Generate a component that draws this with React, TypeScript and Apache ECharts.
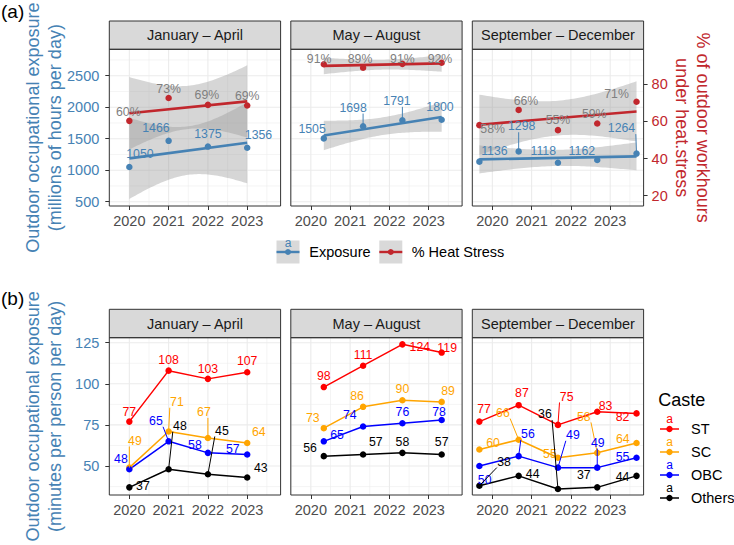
import React, { useEffect, useRef } from 'react';
import * as echarts from 'echarts';

// ---------- data ----------
const periods = ['January – April', 'May – August', 'September – December'];
const yearTicks = [2020, 2021, 2022, 2023];
const xJanApr = [2020, 2021, 2022, 2023];
const xMayAug = [2020.33, 2021.33, 2022.33, 2023.33];
const xSepDec = [2019.67, 2020.67, 2021.67, 2022.67, 2023.67];

// (a) exposure, millions of hours per day
const exposureJanApr = [1050, 1466, 1375, 1356];
const exposureMayAug = [1505, 1698, 1791, 1800];
const exposureSepDec = [1136, 1298, 1118, 1162, 1264];
// (a) % of outdoor workhours under heat stress
const heatJanApr = [60.3, 72.6, 68.9, 68.6];
const heatMayAug = [90.8, 88.9, 91.0, 91.6];
const heatSepDec = [58.0, 66.2, 55.3, 58.9, 70.6];

// (b) minutes per person per day by caste
const castes = ['ST', 'SC', 'OBC', 'Others'];
const stJanApr = [77, 108, 103, 107];
const scJanApr = [49, 71, 67, 64];
const obcJanApr = [48, 65, 58, 57];
const othersJanApr = [37, 48, 45, 43];
const stMayAug = [98, 111, 124, 119];
const scMayAug = [73, 86, 90, 89];
const obcMayAug = [65, 74, 76, 78];
const othersMayAug = [56, 57, 58, 57];
const stSepDec = [77, 87, 75, 83, 82];
const scSepDec = [60, 66, 55, 58, 64];
const obcSepDec = [50, 56, 49, 49, 55];
const othersSepDec = [38, 44, 36, 37, 44];

const exposureTicks = [500, 1000, 1500, 2000, 2500];
const heatTicks = [20, 40, 60, 80];
const minutesTicks = [50, 75, 100, 125];

// ---------- styling / layout ----------
const FONT = '"Liberation Sans", Arial, Helvetica, sans-serif';
const BLUE = '#4682B4';
const RED = '#C1272D';
const GREY_LABEL = '#7F7F7F';
const casteColors = ['#FF0000', '#FFA500', '#0000FF', '#000000'];
const X_MIN = 2019.49, X_MAX = 2023.85;
const EXPO_MIN = 431.7, EXPO_MAX = 2919;
const HEAT_MIN = 14.45, HEAT_MAX = 98.85;
const MIN_MIN = 32.36, MIN_MAX = 128.04;
const panelLefts = [109.3, 290.8, 472.3];
const PANEL_W = 171.3;
const TOP_STRIP = 21, TOP_Y = 49.3, TOP_H = 156.7;
const BOT_STRIP = 309.3, BOT_Y = 337.7, BOT_H = 157.3;
const LABEL_FS = 12.3;

// label nudges [dx, dy, segment]
const nudgeExposure = [
  [[10.6, -12.7, 0], [-12.7, -13, 0], [0, -12.6, 0], [11.3, -13, 0]],
  [[-11.7, -9.4, 0], [-10, -18.5, 1], [-5.4, -19.4, 1], [-1.7, -12.5, 0]],
  [[15, -11, 0], [3, -25, 1], [-14.7, -12, 0], [-15.4, -9.3, 0], [-15, -25.3, 1]],
];
const nudgeHeat = [
  [[-1, -9, 0], [0, -9.5, 0], [-1, -9.6, 0], [0, -9, 0]],
  [[-4.7, -4.9, 0], [-3, -8.5, 0], [0, -4.6, 0], [-1.7, -3.5, 0]],
  [[13.3, 3.6, 0], [7.3, -8.8, 0], [0, -10.4, 0], [-3, -9.2, 0], [-20, -7.8, 0]],
];
const nudgeCaste = [
  [
    [[0, -10, 0], [0, -11, 0], [0, -10, 0], [0, -11, 0]],
    [[5.6, -27, 1], [8.3, -29.6, 1], [-4, -26, 1], [11.6, -11, 0]],
    [[-8.4, -10.4, 0], [-12.7, -20.4, 1], [-13, -8, 0], [-14.4, -5.6, 0]],
    [[13.6, -1.5, 0], [11.3, -43.4, 1], [14, -43.6, 1], [13.6, -10, 0]],
  ],
  [
    [[0, -11, 0], [0, -11, 0], [17.5, 2.3, 0], [5.5, -4.5, 0]],
    [[-11, -10.6, 0], [-6, -11, 0], [0, -11, 0], [6.3, -11, 0]],
    [[13.3, -6.4, 0], [-13.3, -11.6, 0], [0, -11.7, 0], [-2.7, -8, 0]],
    [[-13.7, -8.2, 0], [12.7, -12.6, 0], [0, -11.3, 0], [0, -12.6, 0]],
  ],
  [
    [[4.6, -12.4, 0], [3.3, -12.3, 0], [8.7, -28.3, 1], [8.3, -6.1, 0], [-14, 3.2, 0]],
    [[13.6, -7, 0], [-15.7, -27, 1], [-8, -3.6, 0], [-13.4, -36.3, 1], [-13.7, -4, 0]],
    [[5.3, 14, 0], [9.3, -22, 1], [15, -32.7, 1], [0.6, -25, 1], [-14, -0.6, 0]],
    [[24.6, -24, 1], [14, -2, 0], [-13, -74.8, 1], [-13.4, -12.5, 0], [-14, 0.7, 0]],
  ],
];

// ---------- helpers ----------
const T975: Record<number, number> = { 1: 12.706, 2: 4.303, 3: 3.182, 4: 2.776 };
function fitLm(xs: number[], ys: number[]) {
  const n = xs.length;
  const xm = xs.reduce((a, b) => a + b, 0) / n;
  const ym = ys.reduce((a, b) => a + b, 0) / n;
  let sxx = 0, sxy = 0;
  for (let i = 0; i < n; i++) { sxx += (xs[i] - xm) ** 2; sxy += (xs[i] - xm) * (ys[i] - ym); }
  const b = sxy / sxx, a = ym - b * xm;
  let sse = 0;
  for (let i = 0; i < n; i++) sse += (ys[i] - (a + b * xs[i])) ** 2;
  return { a, b, n, xm, sxx, s: Math.sqrt(sse / (n - 2)) };
}
function ciBand(xs: number[], ys: number[], steps = 60) {
  const f = fitLm(xs, ys);
  const t = T975[f.n - 2];
  const x0 = Math.min(...xs), x1 = Math.max(...xs);
  const out: number[][] = [];
  for (let k = 0; k <= steps; k++) {
    const x = x0 + ((x1 - x0) * k) / steps;
    const yh = f.a + f.b * x;
    const se = f.s * Math.sqrt(1 / f.n + (x - f.xm) ** 2 / f.sxx);
    out.push([x, yh - t * se, yh + t * se]);
  }
  return out;
}
function fitLine(xs: number[], ys: number[]) {
  const f = fitLm(xs, ys);
  const x0 = Math.min(...xs), x1 = Math.max(...xs);
  return [[x0, f.a + f.b * x0], [x1, f.a + f.b * x1]];
}

function gridSeries(xi: number, yi: number, yMajor: number[], yMinor: number[], yMid: number) {
  const data: number[][] = [];
  yearTicks.forEach((v) => data.push([v, 0, 1]));
  [2019.5, 2020.5, 2021.5, 2022.5, 2023.5].forEach((v) => data.push([v, 0, 0]));
  yMajor.forEach((v) => data.push([v, 1, 1]));
  yMinor.forEach((v) => data.push([v, 1, 0]));
  return {
    type: 'custom', xAxisIndex: xi, yAxisIndex: yi, z: 0, silent: true,
    data,
    renderItem: (params: any, api: any) => {
      const v = api.value(0), kind = api.value(1), major = api.value(2);
      const cs = params.coordSys;
      let shape;
      if (kind === 0) {
        const px = api.coord([v, yMid])[0];
        shape = { x1: px, y1: cs.y, x2: px, y2: cs.y + cs.height };
      } else {
        const py = api.coord([2021.5, v])[1];
        shape = { x1: cs.x, y1: py, x2: cs.x + cs.width, y2: py };
      }
      return { type: 'line', shape, style: { stroke: '#EBEBEB', lineWidth: major ? 1.1 : 0.55 } };
    },
  };
}

function bandSeries(xi: number, yi: number, xs: number[], ys: number[]) {
  const pts = ciBand(xs, ys);
  return {
    type: 'custom', xAxisIndex: xi, yAxisIndex: yi, z: 1, silent: true, clip: true,
    data: [[pts[0][0], pts[0][1]]],
    renderItem: (_p: any, api: any) => {
      const up = pts.map((d) => api.coord([d[0], d[2]]));
      const lo = pts.map((d) => api.coord([d[0], d[1]])).reverse();
      return { type: 'polygon', shape: { points: up.concat(lo) }, style: { fill: 'rgba(153,153,153,0.4)' } };
    },
  };
}

function labelSeries(xi: number, yi: number, xs: number[], ys: number[], texts: string[], nudges: number[][], color: string) {
  return {
    type: 'custom', xAxisIndex: xi, yAxisIndex: yi, z: 5, silent: true, clip: false,
    data: xs.map((x, i) => [x, ys[i]]),
    renderItem: (params: any, api: any) => {
      const i = params.dataIndex;
      const p = api.coord([api.value(0), api.value(1)]);
      const [dx, dy, seg] = nudges[i];
      const text = texts[i];
      const cx = p[0] + dx, cy = p[1] + dy;
      const children: any[] = [];
      if (seg) {
        const w = text.length * 0.58 * LABEL_FS, h = LABEL_FS * 0.95;
        const ex = Math.min(Math.max(p[0], cx - w / 2), cx + w / 2);
        const ey = Math.min(Math.max(p[1], cy - h / 2), cy + h / 2);
        children.push({ type: 'line', shape: { x1: p[0], y1: p[1], x2: ex, y2: ey }, style: { stroke: color, lineWidth: 1 } });
      }
      children.push({
        type: 'text', x: cx, y: cy,
        style: { text, fill: color, fontSize: LABEL_FS, fontFamily: FONT, align: 'center', verticalAlign: 'middle' },
      });
      return { type: 'group', children };
    },
  };
}

function xAxis(gridIndex: number) {
  return {
    type: 'value', gridIndex, min: X_MIN, max: X_MAX,
    axisLine: { show: false }, splitLine: { show: false },
    axisTick: { show: true, length: 4, lineStyle: { color: '#333333', width: 1 }, customValues: yearTicks },
    axisLabel: { customValues: yearTicks, margin: 7, color: '#4D4D4D', fontSize: 14.5, fontFamily: FONT, formatter: (v: number) => String(Math.round(v)) },
  };
}
function yAxis(gridIndex: number, min: number, max: number, ticks: number[], showLabels: boolean, color: string, position = 'left', show = true) {
  return {
    type: 'value', gridIndex, min, max, position, show,
    axisLine: { show: false }, splitLine: { show: false },
    axisTick: { show: showLabels, length: 4, lineStyle: { color: '#333333', width: 1 }, customValues: ticks },
    axisLabel: { show: showLabels, customValues: ticks, margin: position === 'left' ? 10 : 8, color, fontSize: 14.5, fontFamily: FONT, formatter: (v: number) => String(Math.round(v)) },
  };
}

function buildOption() {
  const grids: any[] = [];
  const xAxes: any[] = [];
  const yAxes: any[] = [];
  const series: any[] = [];
  const graphics: any[] = [];

  panelLefts.forEach((left) => grids.push({ left, top: TOP_Y, width: PANEL_W, height: TOP_H, show: true, backgroundColor: '#FFFFFF', borderWidth: 0 }));
  panelLefts.forEach((left) => grids.push({ left, top: BOT_Y, width: PANEL_W, height: BOT_H, show: true, backgroundColor: '#FFFFFF', borderWidth: 0 }));
  for (let g = 0; g < 6; g++) xAxes.push(xAxis(g));
  // y axes: 0-2 top left, 3-5 top right, 6-8 bottom left
  for (let p = 0; p < 3; p++) yAxes.push(yAxis(p, EXPO_MIN, EXPO_MAX, exposureTicks, p === 0, BLUE));
  for (let p = 0; p < 3; p++) yAxes.push(yAxis(p, HEAT_MIN, HEAT_MAX, heatTicks, p === 2, RED, 'right', p === 2));
  for (let p = 0; p < 3; p++) yAxes.push(yAxis(3 + p, MIN_MIN, MIN_MAX, minutesTicks, p === 0, BLUE));

  const topX = [xJanApr, xMayAug, xSepDec];
  const topExpo = [exposureJanApr, exposureMayAug, exposureSepDec];
  const topHeat = [heatJanApr, heatMayAug, heatSepDec];

  for (let p = 0; p < 3; p++) {
    const xs = topX[p];
    series.push(gridSeries(p, p, exposureTicks, [750, 1250, 1750, 2250, 2750], 1500));
    series.push(bandSeries(p, p, xs, topExpo[p]));
    series.push(bandSeries(p, 3 + p, xs, topHeat[p]));
    series.push({ type: 'line', xAxisIndex: p, yAxisIndex: p, z: 2, silent: true, showSymbol: false, data: fitLine(xs, topExpo[p]), lineStyle: { color: BLUE, width: 2.6 } });
    series.push({ type: 'line', xAxisIndex: p, yAxisIndex: 3 + p, z: 2, silent: true, showSymbol: false, data: fitLine(xs, topHeat[p]), lineStyle: { color: RED, width: 2.6 } });
    series.push({ type: 'scatter', xAxisIndex: p, yAxisIndex: p, z: 3, silent: true, symbolSize: 6.5, data: xs.map((x, i) => [x, topExpo[p][i]]), itemStyle: { color: BLUE, opacity: 1 } });
    series.push({ type: 'scatter', xAxisIndex: p, yAxisIndex: 3 + p, z: 3, silent: true, symbolSize: 6.5, data: xs.map((x, i) => [x, topHeat[p][i]]), itemStyle: { color: RED, opacity: 1 } });
    series.push(labelSeries(p, 3 + p, xs, topHeat[p], topHeat[p].map((v) => Math.round(v) + '%'), nudgeHeat[p], GREY_LABEL));
    series.push(labelSeries(p, p, xs, topExpo[p], topExpo[p].map((v) => String(v)), nudgeExposure[p], BLUE));
  }

  const botVals = [
    [stJanApr, scJanApr, obcJanApr, othersJanApr],
    [stMayAug, scMayAug, obcMayAug, othersMayAug],
    [stSepDec, scSepDec, obcSepDec, othersSepDec],
  ];
  for (let p = 0; p < 3; p++) {
    const g = 3 + p, yi = 6 + p;
    const xs = topX[p];
    series.push(gridSeries(g, yi, minutesTicks, [37.5, 62.5, 87.5, 112.5], 80));
    castes.forEach((c, k) => {
      series.push({
        type: 'line', name: c, xAxisIndex: g, yAxisIndex: yi, z: 3, silent: true,
        symbol: 'circle', symbolSize: 6.5, showSymbol: true,
        data: xs.map((x, i) => [x, botVals[p][k][i]]),
        lineStyle: { color: casteColors[k], width: 1.5 }, itemStyle: { color: casteColors[k] },
      });
    });
    castes.forEach((c, k) => {
      series.push(labelSeries(g, yi, xs, botVals[p][k], botVals[p][k].map((v) => String(v)), nudgeCaste[p][k], casteColors[k]));
    });
  }

  // strips and borders
  panelLefts.forEach((left, p) => {
    [[TOP_STRIP, TOP_Y, TOP_H], [BOT_STRIP, BOT_Y, BOT_H]].forEach(([sy, py, ph]) => {
      graphics.push({ type: 'rect', z: 100, shape: { x: left, y: sy, width: PANEL_W, height: py - sy }, style: { fill: '#D9D9D9', stroke: '#333333', lineWidth: 1 } });
      graphics.push({ type: 'text', z: 101, x: left + PANEL_W / 2, y: (sy + py) / 2, style: { text: periods[p], fill: '#1A1A1A', fontSize: 14.5, fontFamily: FONT, align: 'center', verticalAlign: 'middle' } });
      graphics.push({ type: 'rect', z: 100, shape: { x: left, y: py, width: PANEL_W, height: ph }, style: { fill: 'none', stroke: '#333333', lineWidth: 1 } });
    });
  });

  // panel tags
  graphics.push({ type: 'text', z: 101, x: 1, y: 11, style: { text: '(a)', fill: '#000', fontSize: 19, fontFamily: FONT, align: 'left', verticalAlign: 'middle' } });
  graphics.push({ type: 'text', z: 101, x: 1, y: 298, style: { text: '(b)', fill: '#000', fontSize: 19, fontFamily: FONT, align: 'left', verticalAlign: 'middle' } });

  // axis titles
  const titleStyle = (text: string, fill: string) => ({ text, fill, fontSize: 18, fontFamily: FONT, align: 'center', verticalAlign: 'middle' });
  const topMid = TOP_Y + TOP_H / 2, botMid = BOT_Y + BOT_H / 2;
  graphics.push({ type: 'text', z: 101, x: 32.5, y: topMid, rotation: Math.PI / 2, style: titleStyle('Outdoor occupational exposure', BLUE) });
  graphics.push({ type: 'text', z: 101, x: 54.5, y: topMid, rotation: Math.PI / 2, style: titleStyle('(millions of hours per day)', BLUE) });
  graphics.push({ type: 'text', z: 101, x: 32.5, y: botMid, rotation: Math.PI / 2, style: titleStyle('Outdoor occupational exposure', BLUE) });
  graphics.push({ type: 'text', z: 101, x: 54.5, y: botMid, rotation: Math.PI / 2, style: titleStyle('(minutes per person per day)', BLUE) });
  graphics.push({ type: 'text', z: 101, x: 703, y: topMid, rotation: -Math.PI / 2, style: titleStyle('% of outdoor workhours', RED) });
  graphics.push({ type: 'text', z: 101, x: 681.5, y: topMid, rotation: -Math.PI / 2, style: titleStyle('under heat.stress', RED) });

  // legend (a)
  const legA = [
    { x: 276.5, label: 'Exposure', color: BLUE, a: true, tx: 309.3 },
    { x: 379.3, label: '% Heat Stress', color: RED, a: false, tx: 411.7 },
  ];
  legA.forEach((l) => {
    const cy = 252;
    graphics.push({ type: 'rect', z: 100, shape: { x: l.x, y: cy - 11.5, width: 23, height: 23 }, style: { fill: '#D9D9D9' } });
    graphics.push({ type: 'line', z: 101, shape: { x1: l.x, y1: cy, x2: l.x + 23, y2: cy }, style: { stroke: l.color, lineWidth: 2.4 } });
    graphics.push({ type: 'circle', z: 102, shape: { cx: l.x + 11.5, cy, r: 3 }, style: { fill: l.color } });
    if (l.a) graphics.push({ type: 'text', z: 102, x: l.x + 11.5, y: cy - 9, style: { text: 'a', fill: l.color, fontSize: 12, fontFamily: FONT, align: 'center', verticalAlign: 'middle' } });
    graphics.push({ type: 'text', z: 101, x: l.tx, y: cy, style: { text: l.label, fill: '#000', fontSize: 14.5, fontFamily: FONT, align: 'left', verticalAlign: 'middle' } });
  });

  // legend (b)
  graphics.push({ type: 'text', z: 101, x: 658.3, y: 400, style: { text: 'Caste', fill: '#000', fontSize: 18, fontFamily: FONT, align: 'left', verticalAlign: 'middle' } });
  castes.forEach((c, k) => {
    const cy = 429 + k * 23;
    graphics.push({ type: 'line', z: 101, shape: { x1: 660, y1: cy, x2: 679, y2: cy }, style: { stroke: casteColors[k], lineWidth: 1.5 } });
    graphics.push({ type: 'circle', z: 102, shape: { cx: 669.5, cy, r: 3.2 }, style: { fill: casteColors[k] } });
    graphics.push({ type: 'text', z: 102, x: 669.5, y: cy - 10, style: { text: 'a', fill: casteColors[k], fontSize: 12, fontFamily: FONT, align: 'center', verticalAlign: 'middle' } });
    graphics.push({ type: 'text', z: 101, x: 691, y: cy, style: { text: c, fill: '#000', fontSize: 14.5, fontFamily: FONT, align: 'left', verticalAlign: 'middle' } });
  });

  return {
    animation: false,
    backgroundColor: '#FFFFFF',
    textStyle: { fontFamily: FONT },
    grid: grids,
    xAxis: xAxes,
    yAxis: yAxes,
    series,
    graphic: graphics,
  };
}

export default function App() {
  const ref = useRef<HTMLDivElement>(null);
  useEffect(() => {
    if (!ref.current) return;
    const chart = echarts.init(ref.current, undefined, { renderer: 'svg' });
    chart.setOption(buildOption() as any);
    return () => chart.dispose();
  }, []);
  return <div ref={ref} style={{ position: 'fixed', left: 0, top: 0, width: 734, height: 545 }} />;
}
